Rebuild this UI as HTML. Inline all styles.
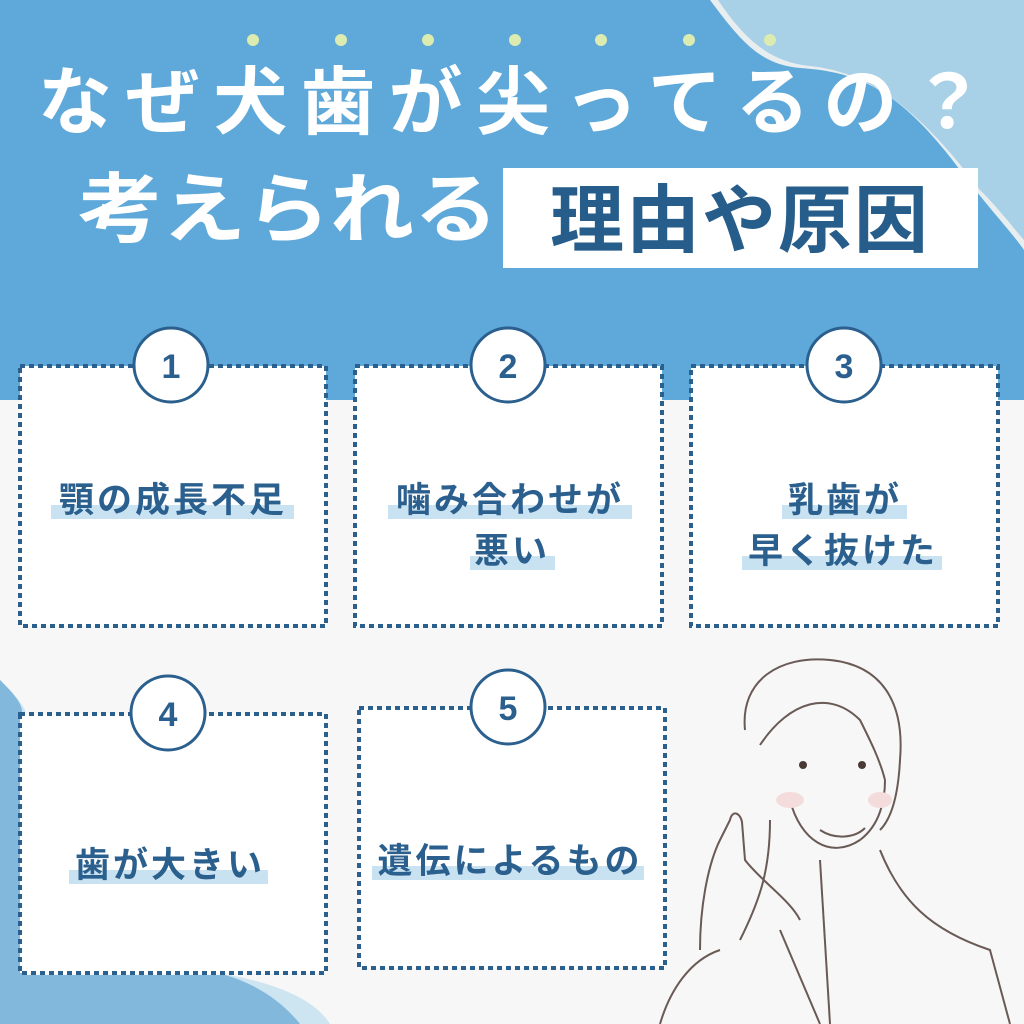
<!DOCTYPE html>
<html><head><meta charset="utf-8"><style>
html,body{margin:0;padding:0;width:1024px;height:1024px;overflow:hidden;background:#f7f7f7}
svg{display:block}
text{font-family:"Liberation Sans","Noto Sans CJK JP",sans-serif}
</style></head><body>
<svg width="1024" height="1024" viewBox="0 0 1024 1024" xmlns="http://www.w3.org/2000/svg">
<rect width="1024" height="1024" fill="#f7f7f7"/>
<rect width="1024" height="400" fill="#5ea9d9"/>
<path d="M710 0 C740 40 760 65 800 68 C860 72 900 90 960 170 C990 210 1010 230 1024 250 L1024 0 Z" fill="#e8eef0"/>
<path d="M718 0 C745 40 770 62 810 66 C870 72 920 110 980 190 C1000 210 1015 230 1024 240 L1024 0 Z" fill="#a8d0e6"/>
<path d="M0 1024 L0 680 C10 690 20 700 25 710 L25 975 L230 975 C280 985 315 1000 330 1024 Z" fill="#cde4f1"/>
<path d="M0 1024 L0 680 C10 690 20 700 22 710 L22 975 L225 975 C260 985 285 1005 300 1024 Z" fill="#82b8dc"/>
<g fill="#dcebb0">
<circle cx="253" cy="40" r="6"/><circle cx="341" cy="40" r="6"/><circle cx="428" cy="40" r="6"/><circle cx="515" cy="40" r="6"/><circle cx="601" cy="40" r="6"/><circle cx="689" cy="40" r="6"/><circle cx="770" cy="40" r="6"/>
</g>
<text x="38" y="128" font-size="74" font-weight="bold" fill="#fff" textLength="947" lengthAdjust="spacing">なぜ犬歯が尖ってるの？</text>
<text x="78" y="236" font-size="76" font-weight="bold" fill="#fff" textLength="420" lengthAdjust="spacingAndGlyphs">考えられる</text>
<rect x="503" y="168" width="475" height="100" fill="#fff"/>
<text x="740" y="246" text-anchor="middle" font-size="74" font-weight="bold" fill="#265d8a" letter-spacing="2">理由や原因</text>
<g fill="#fff" stroke="#2a5f8e" stroke-width="4" stroke-dasharray="5 4">
<rect x="20" y="366" width="306" height="260"/>
<rect x="355" y="366" width="307" height="260"/>
<rect x="691" y="366" width="307" height="260"/>
<rect x="20" y="714" width="306" height="259"/>
<rect x="359" y="708" width="306" height="260"/>
</g>
<g fill="#fff" stroke="#2a5f8e" stroke-width="3">
<circle cx="171" cy="365" r="37"/><circle cx="508" cy="365" r="37"/><circle cx="844" cy="365" r="37"/>
<circle cx="168" cy="713" r="37"/><circle cx="508" cy="707" r="37"/>
</g>
<g fill="#2a5f8e" font-size="34" font-weight="bold" text-anchor="middle">
<text x="171" y="378">1</text><text x="508" y="378">2</text><text x="844" y="378">3</text>
<text x="168" y="726">4</text><text x="508" y="720">5</text>
</g>
<g fill="#c9e2f2">
<rect x="51" y="505" width="243" height="14"/>
<rect x="388" y="505" width="244" height="14"/>
<rect x="470" y="556" width="85" height="14"/>
<rect x="782" y="505" width="125" height="14"/>
<rect x="742" y="556" width="200" height="14"/>
<rect x="69" y="870" width="199" height="14"/>
<rect x="372" y="866" width="272" height="14"/>
</g>
<g fill="#2a5f8e" font-size="35" font-weight="bold" text-anchor="middle" letter-spacing="3">
<text x="173" y="512">顎の成長不足</text>
<text x="510" y="512">噛み合わせが</text>
<text x="512" y="563">悪い</text>
<text x="845" y="512">乳歯が</text>
<text x="843" y="563">早く抜けた</text>
<text x="170" y="877">歯が大きい</text>
<text x="510" y="873">遺伝によるもの</text>
</g>
<g fill="none" stroke="#6a5a55" stroke-width="2">
<path d="M745 730 C740 680 780 655 830 660 C880 665 905 700 900 760 C898 800 890 820 880 830"/>
<path d="M760 745 C790 700 830 690 860 720 C870 740 880 760 885 780"/>
<path d="M790 800 C800 840 830 860 860 840 C880 825 885 800 885 780"/>
<path d="M820 830 C835 840 855 838 865 828"/>
<path d="M770 820 C770 870 760 900 740 940"/>
<path d="M700 950 C700 900 710 860 720 840 L730 820 C732 810 740 812 742 822 L745 860 C760 880 790 900 800 920"/>
<path d="M820 860 L830 1024"/><path d="M880 850 C900 900 930 930 990 950 L1010 1024"/>
<path d="M660 1024 C670 990 690 960 720 950"/>
<path d="M780 930 L820 1024"/>
</g>
<g fill="#f5dcdc"><ellipse cx="790" cy="800" rx="14" ry="8"/><ellipse cx="880" cy="800" rx="12" ry="8"/></g>
<g fill="#4a3a35"><circle cx="803" cy="765" r="4"/><circle cx="862" cy="765" r="4"/></g>
</svg>
</body></html>
